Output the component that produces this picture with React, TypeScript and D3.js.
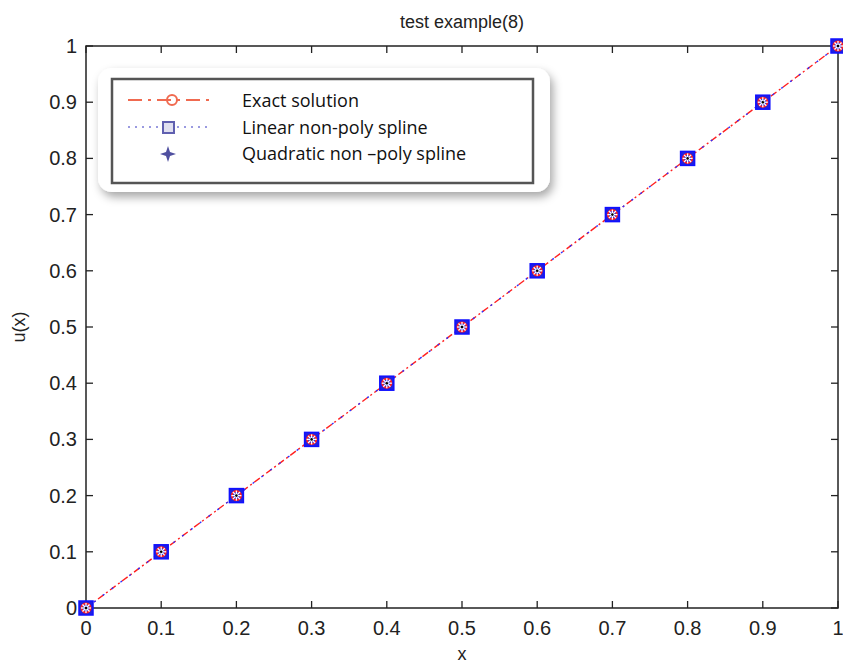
import React from 'react';
import * as d3 from 'd3';

const xValues = [0, 0.1, 0.2, 0.3, 0.4, 0.5, 0.6, 0.7, 0.8, 0.9, 1];
const exactValues = [0, 0.1, 0.2, 0.3, 0.4, 0.5, 0.6, 0.7, 0.8, 0.9, 1];
const linearValues = [0, 0.1, 0.2, 0.3, 0.4, 0.5, 0.6, 0.7, 0.8, 0.9, 1];
const quadraticValues = [0, 0.1, 0.2, 0.3, 0.4, 0.5, 0.6, 0.7, 0.8, 0.9, 1];
const tickValues = [0, 0.1, 0.2, 0.3, 0.4, 0.5, 0.6, 0.7, 0.8, 0.9, 1];
const legendLabels = ['Exact solution', 'Linear non-poly spline', 'Quadratic non \u2013poly spline'];

const W = 843;
const H = 664;
const left = 86, right = 838, top = 46, bottom = 608;
const axisFont = 'Liberation Sans, Arial, sans-serif';

function Star({ cx, cy, r, color }: { cx: number; cy: number; r: number; color: string }) {
  const lines = [0, 45, 90, 135].map(a => {
    const rad = (a * Math.PI) / 180;
    return (
      <line key={a} x1={cx - r * Math.cos(rad)} y1={cy - r * Math.sin(rad)}
        x2={cx + r * Math.cos(rad)} y2={cy + r * Math.sin(rad)} stroke={color} strokeWidth={1.3} />
    );
  });
  return <g>{lines}</g>;
}

export default function App() {
  const x = d3.scaleLinear().domain([0, 1]).range([left, right]);
  const y = d3.scaleLinear().domain([0, 1]).range([bottom, top]);

  const line = d3.line<number>()
    .x((_, i) => x(xValues[i]))
    .y(d => y(d));

  return (
    <svg width={W} height={H} style={{ position: 'absolute', left: 0, top: 0, background: '#fff' }}>
      <defs>
        <filter id="shadow" x="-10%" y="-10%" width="130%" height="140%">
          <feDropShadow dx="3" dy="5" stdDeviation="5" floodColor="#000" floodOpacity="0.35" />
        </filter>
      </defs>
      <rect x={0} y={0} width={W} height={H} fill="#fff" />

      {/* title */}
      <text x={(left + right) / 2} y={28} textAnchor="middle" fontFamily={axisFont} fontSize={18} fill="#222">
        test example(8)
      </text>

      {/* axes box */}
      <rect x={left} y={top} width={right - left} height={bottom - top} fill="none" stroke="#222" strokeWidth={1.5} />

      {tickValues.map(t => (
        <g key={'x' + t}>
          <line x1={x(t)} x2={x(t)} y1={bottom} y2={bottom - 7} stroke="#222" strokeWidth={1.3} />
          <line x1={x(t)} x2={x(t)} y1={top} y2={top + 7} stroke="#222" strokeWidth={1.3} />
          <text x={x(t)} y={bottom + 27} textAnchor="middle" fontFamily={axisFont} fontSize={20} fill="#222">
            {String(t)}
          </text>
        </g>
      ))}
      {tickValues.map(t => (
        <g key={'y' + t}>
          <line x1={left} x2={left + 7} y1={y(t)} y2={y(t)} stroke="#222" strokeWidth={1.3} />
          <line x1={right} x2={right - 7} y1={y(t)} y2={y(t)} stroke="#222" strokeWidth={1.3} />
          <text x={left - 9} y={y(t) + 7} textAnchor="end" fontFamily={axisFont} fontSize={20} fill="#222">
            {String(t)}
          </text>
        </g>
      ))}

      <text x={(left + right) / 2} y={660} textAnchor="middle" fontFamily={axisFont} fontSize={18} fill="#222">x</text>
      <text transform={`translate(25,${(top + bottom) / 2}) rotate(-90)`} textAnchor="middle"
        fontFamily={axisFont} fontSize={18} fill="#222">u(x)</text>

      {/* series lines */}
      <path d={line(exactValues) || ''} fill="none" stroke="#ff2020" strokeWidth={1.4} strokeDasharray="7,3,2,3" />
      <path d={line(linearValues) || ''} fill="none" stroke="#3030ff" strokeWidth={1.4} strokeDasharray="2,9" strokeDashoffset={-10} />

      {/* markers */}
      {xValues.map((xv, i) => (
        <g key={'m' + i}>
          <rect x={x(xv) - 7} y={y(linearValues[i]) - 7} width={14} height={14} fill="#2020e0" stroke="#1010ff" strokeWidth={1.5} />
          <circle cx={x(xv)} cy={y(exactValues[i])} r={4.5} fill="none" stroke="#ff2020" strokeWidth={2} />
          <Star cx={x(xv)} cy={y(quadraticValues[i])} r={5} color="#ffffff" />
          <circle cx={x(xv)} cy={y(quadraticValues[i])} r={1.3} fill="#000" />
        </g>
      ))}

      {/* legend */}
      <g>
        <rect x={98} y={68} width={452} height={124} rx={14} fill="#fff" filter="url(#shadow)" />
        <rect x={112} y={79} width={421} height={104} fill="#fff" stroke="#555" strokeWidth={2.5} />
        <line x1={128} x2={210} y1={100} y2={100} stroke="#f06a50" strokeWidth={2} strokeDasharray="14,6,3,6" />
        <circle cx={172} cy={100} r={5} fill="none" stroke="#f06a50" strokeWidth={2} />
        <line x1={128} x2={210} y1={127} y2={127} stroke="#9a9ae0" strokeWidth={1.8} strokeDasharray="2,5" />
        <rect x={163} y={122} width={11} height={11} fill="#e0e0f0" stroke="#6060b0" strokeWidth={2} />
        <path d="M168,146 L170,152 L176,154 L170,156 L168,162 L166,156 L160,154 L166,152 Z" fill="#5050a0" />
        {legendLabels.map((label, i) => (
          <text key={label} x={242} y={107 + i * 26.5} fontFamily="'Open Sans', 'Liberation Sans', sans-serif"
            fontSize={18} fill="#111">{label}</text>
        ))}
      </g>
    </svg>
  );
}
